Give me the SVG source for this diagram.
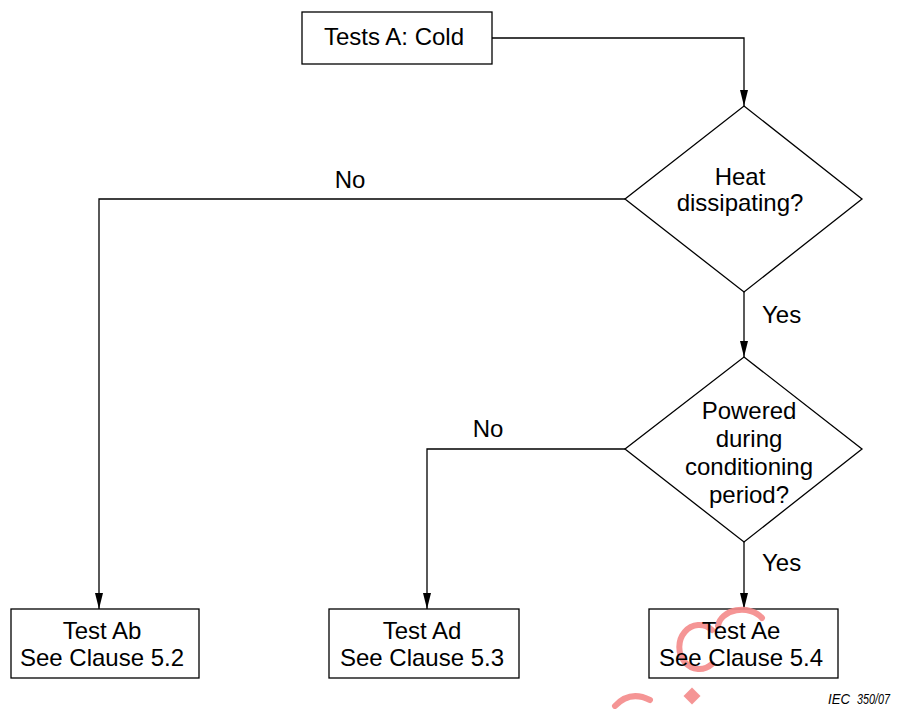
<svg xmlns="http://www.w3.org/2000/svg" width="901" height="709" viewBox="0 0 901 709">
<style>
.box{fill:#fff;stroke:#000;stroke-width:1.3}
.ln{fill:none;stroke:#000;stroke-width:1.3}
.t{font-family:"Liberation Sans",Arial,sans-serif;font-size:24px;fill:#000}
.c{text-anchor:middle}
.wm{fill:none;stroke:#f58a8a;stroke-width:6;stroke-linecap:round}
.iec{font-family:"Liberation Sans",Arial,sans-serif;font-style:italic;font-size:14px;fill:#000}
</style>
<defs>
<marker id="ah" viewBox="0 0 16 8" refX="16" refY="4" markerWidth="16" markerHeight="8" orient="auto" markerUnits="userSpaceOnUse">
<path d="M0,0 L16,4 L0,8 Z" fill="#000"/>
</marker>
</defs>
<rect width="901" height="709" fill="#fff"/>
<g id="connectors">
<path class="ln" d="M492,38 H744 V106" marker-end="url(#ah)"/>
<path class="ln" d="M625,199 H99 V609" marker-end="url(#ah)"/>
<path class="ln" d="M744,292 V357" marker-end="url(#ah)"/>
<path class="ln" d="M625,449 H427 V609" marker-end="url(#ah)"/>
<path class="ln" d="M744,542 V609" marker-end="url(#ah)"/>
<text class="t c" x="350" y="188">No</text>
<text class="t" x="762" y="323">Yes</text>
<text class="t c" x="488" y="437">No</text>
<text class="t" x="762" y="571">Yes</text>
</g>
<g id="start">
<rect class="box" x="302" y="12" width="190" height="52"/>
<text class="t c" x="394" y="45">Tests A: Cold</text>
</g>
<g id="heat">
<polygon class="box" points="744,106 862,199 744,292 625,199"/>
<text class="t c" x="740" y="185">Heat</text>
<text class="t c" x="740" y="211">dissipating?</text>
</g>
<g id="powered">
<polygon class="box" points="744,357 862,449 744,542 625,449"/>
<text class="t c" x="749" y="419">Powered</text>
<text class="t c" x="749" y="447">during</text>
<text class="t c" x="749" y="475">conditioning</text>
<text class="t c" x="749" y="503">period?</text>
</g>
<g id="testAb">
<rect class="box" x="11" y="609" width="188" height="69"/>
<text class="t c" x="102" y="639">Test Ab</text>
<text class="t c" x="102" y="666">See Clause 5.2</text>
</g>
<g id="testAd">
<rect class="box" x="329" y="609" width="190" height="69"/>
<text class="t c" x="422" y="639">Test Ad</text>
<text class="t c" x="422" y="666">See Clause 5.3</text>
</g>
<g id="testAe">
<rect class="box" x="649" y="609" width="189" height="69"/>
<g opacity="0.9">
<path class="wm" d="M712,630 A20,22 0 1 0 712,664"/>
<path class="wm" d="M718,626 A24,18 0 0 1 762,618"/>
<path class="wm" d="M615,706 Q630,690 650,700"/>
<rect x="-6" y="-6" width="12" height="12" fill="#f58a8a" transform="translate(692,696) rotate(45)"/>
</g>
<text class="t c" x="741" y="639">Test Ae</text>
<text class="t c" x="741" y="666">See Clause 5.4</text>
</g>
<text class="iec" x="828" y="704" textLength="22" lengthAdjust="spacingAndGlyphs">IEC</text>
<text class="iec" x="857" y="704" textLength="33" lengthAdjust="spacingAndGlyphs">350/07</text>
</svg>
